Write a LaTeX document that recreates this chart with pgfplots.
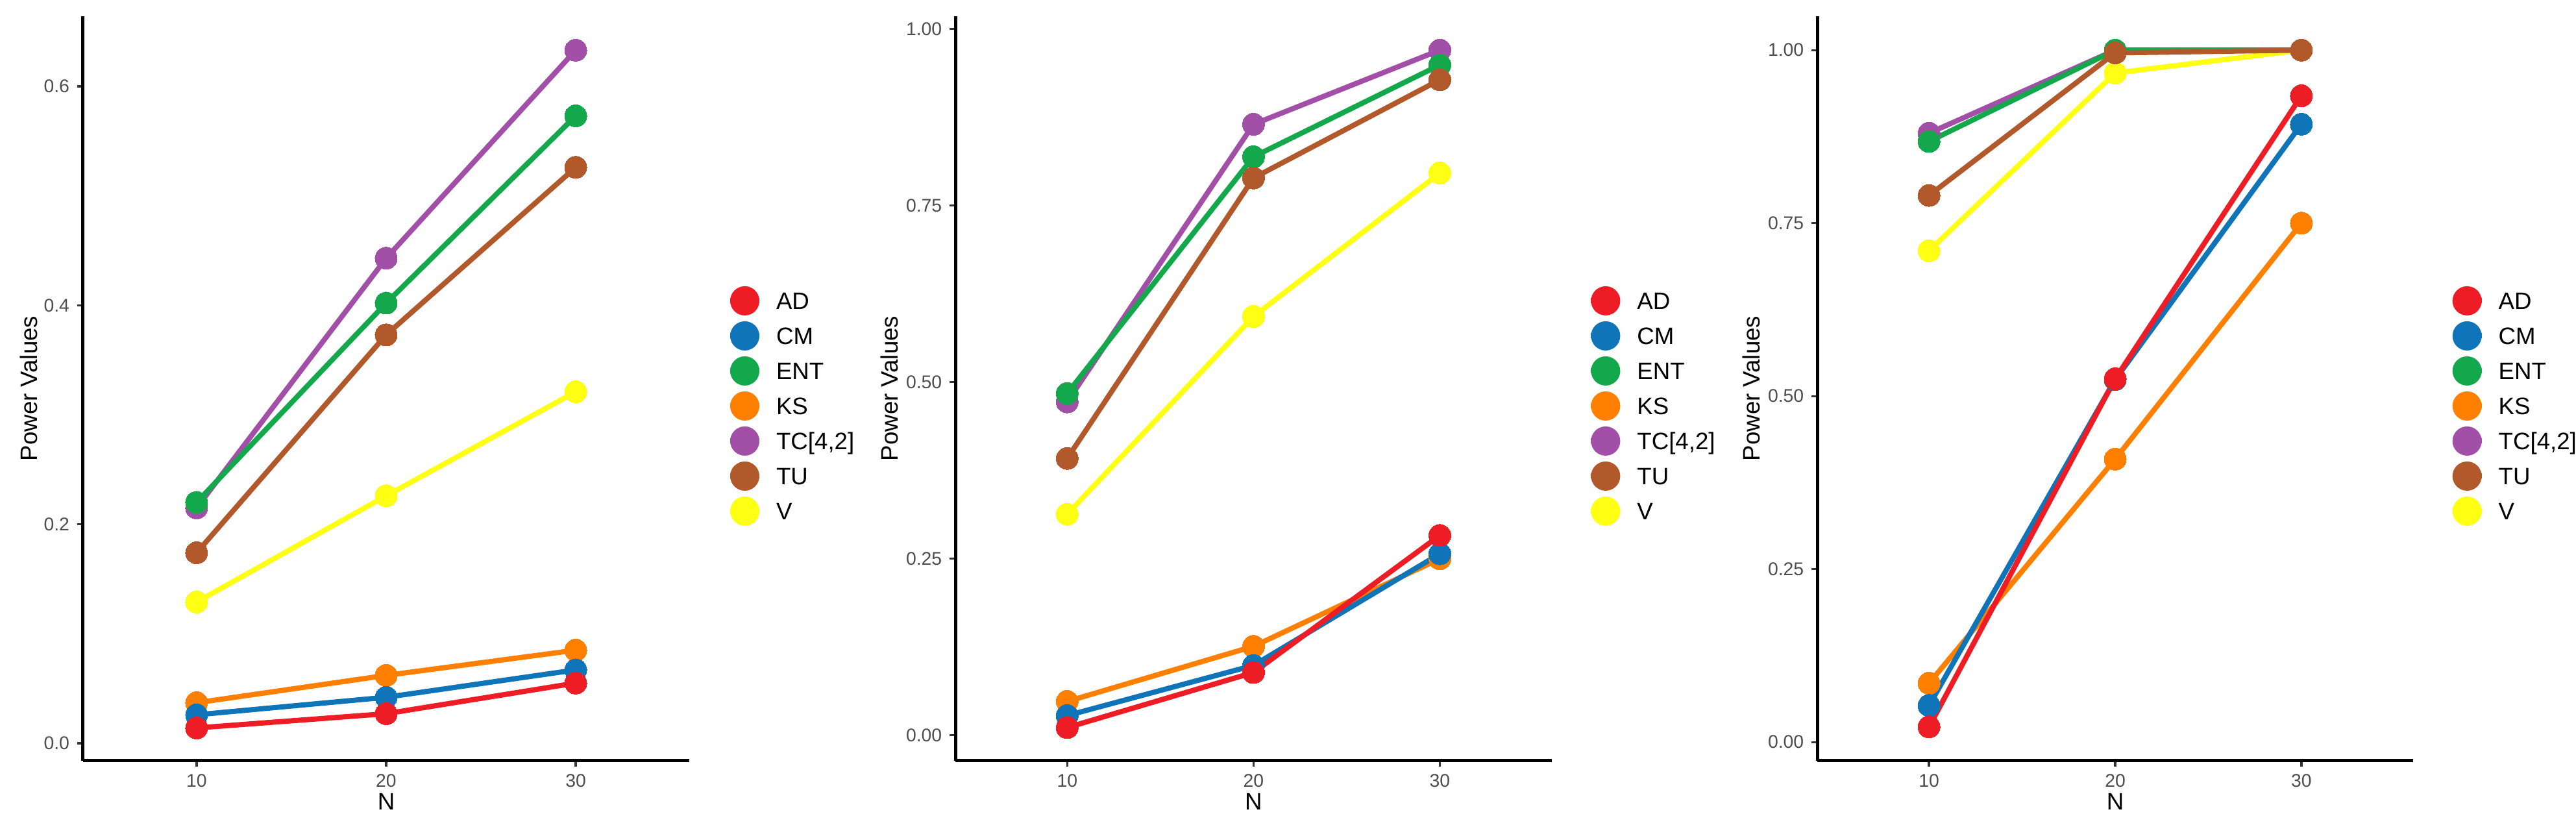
\documentclass[border=0pt]{standalone}
\usepackage{fontspec}
\setmainfont{Liberation Sans}
\usepackage{pgfplots}
\usepackage{pgfplotstable}
\pgfplotsset{compat=1.18}

\definecolor{cAD}{HTML}{EE1C25}
\definecolor{cCM}{HTML}{1075B8}
\definecolor{cENT}{HTML}{12A84B}
\definecolor{cKS}{HTML}{FF7F00}
\definecolor{cTC}{HTML}{A24FA8}
\definecolor{cTU}{HTML}{B1592A}
\definecolor{cV}{HTML}{FFFF14}
\definecolor{gray30}{HTML}{4D4D4D}
\definecolor{gray20}{HTML}{333333}

% power values, one table per panel
\pgfplotstableread{
N  AD    CM    ENT   KS    TC    TU    V
10 0.014 0.026 0.220 0.037 0.215 0.174 0.129
20 0.027 0.042 0.402 0.062 0.443 0.373 0.226
30 0.055 0.067 0.573 0.085 0.633 0.526 0.321
}\tabA
\pgfplotstableread{
N  AD    CM    ENT   KS    TC    TU    V
10 0.011 0.028 0.484 0.048 0.472 0.392 0.313
20 0.089 0.099 0.819 0.126 0.865 0.789 0.593
30 0.283 0.257 0.949 0.250 0.970 0.928 0.796
}\tabB
\pgfplotstableread{
N  AD    CM    ENT   KS    TC    TU    V
10 0.022 0.053 0.868 0.085 0.880 0.790 0.710
20 0.525 0.524 1.000 0.409 1.000 0.996 0.967
30 0.934 0.893 1.000 0.750 1.000 1.000 1.000
}\tabC

\pgfplotsset{
  ser/.style={color=#1, line width=2.4pt, mark=*, mark size=5.1pt,
    mark options={solid, line width=0pt}},
  powerax/.style={
    scale only axis,
    height=344.1pt,
    anchor=south west,
    axis lines=left,
    axis line style={-, line width=1.5pt, black},
    xmin=4, xmax=36,
    xtick={10,20,30},
    tick align=outside,
    major tick length=2.7pt,
    tick style={gray20, line width=1pt},
    /pgf/number format/assume math mode=true,
    ticklabel style={font=\fontsize{8.5}{10}\selectfont, color=gray30},
    label style={font=\fontsize{11}{13}\selectfont},
    xlabel={N},
    ylabel={Power Values},
    xlabel style={anchor=center},
    ylabel style={anchor=center},
    clip=false,
    legend cell align=left,
    legend style={draw=none, fill=none, inner sep=0pt, anchor=west,
      column sep=6.6pt, row sep=0pt,
      font=\fontsize{11}{13}\selectfont,
      nodes={inner sep=0pt, text height=7.9pt, text depth=0pt}},
    legend image code/.code={
      \draw[##1, line width=2.4pt] (-6.75pt,0pt) -- (6.75pt,0pt);
      \fill[##1] (0pt,0pt) circle (5.55pt);
      \path[draw=none, fill=none] (-6.75pt,-8.1pt) rectangle (6.75pt,8.1pt);
    },
  },
}

\newcommand{\panelplots}[1]{%
  \addlegendimage{ser=cAD}\addlegendentry{AD}
  \addlegendimage{ser=cCM}\addlegendentry{CM}
  \addlegendimage{ser=cENT}\addlegendentry{ENT}
  \addlegendimage{ser=cKS}\addlegendentry{KS}
  \addlegendimage{ser=cTC}\addlegendentry{TC[4,2]}
  \addlegendimage{ser=cTU}\addlegendentry{TU}
  \addlegendimage{ser=cV}\addlegendentry{V}
  \addplot[ser=cKS, forget plot] table[x=N, y=KS] {#1};
  \addplot[ser=cCM, forget plot] table[x=N, y=CM] {#1};
  \addplot[ser=cAD, forget plot] table[x=N, y=AD] {#1};
  \addplot[ser=cTC, forget plot] table[x=N, y=TC] {#1};
  \addplot[ser=cENT, forget plot] table[x=N, y=ENT] {#1};
  \addplot[ser=cV, forget plot] table[x=N, y=V] {#1};
  \addplot[ser=cTU, forget plot] table[x=N, y=TU] {#1};
}

\begin{document}
\begin{tikzpicture}
\path[use as bounding box] (0pt,0pt) rectangle (1190.7pt,382.2pt);

\begin{axis}[powerax, at={(38.3pt,30.6pt)}, width=280.4pt,
    ymin=-0.016, ymax=0.664,
    ytick={0,0.2,0.4,0.6}, yticklabels={0.0,0.2,0.4,0.6},
    xlabel style={at={(axis description cs:0.5,-0.0549)}},
    ylabel style={at={(axis description cs:-0.0888,0.5)}},
    legend style={at={(axis description cs:1.0621,0.4765)}}]
  \panelplots{\tabA}
\end{axis}

\begin{axis}[powerax, at={(441.6pt,30.6pt)}, width=275.6pt,
    ymin=-0.036, ymax=1.018,
    ytick={0,0.25,0.5,0.75,1}, yticklabels={0.00,0.25,0.50,0.75,1.00},
    xlabel style={at={(axis description cs:0.5,-0.0549)}},
    ylabel style={at={(axis description cs:-0.1103,0.5)}},
    legend style={at={(axis description cs:1.061,0.4765)}}]
  \panelplots{\tabB}
\end{axis}

\begin{axis}[powerax, at={(840pt,30.6pt)}, width=275.4pt,
    ymin=-0.027, ymax=1.049,
    ytick={0,0.25,0.5,0.75,1}, yticklabels={0.00,0.25,0.50,0.75,1.00},
    xlabel style={at={(axis description cs:0.5,-0.0549)}},
    ylabel style={at={(axis description cs:-0.1104,0.5)}},
    legend style={at={(axis description cs:1.061,0.4765)}}]
  \panelplots{\tabC}
\end{axis}
\end{tikzpicture}
\end{document}
